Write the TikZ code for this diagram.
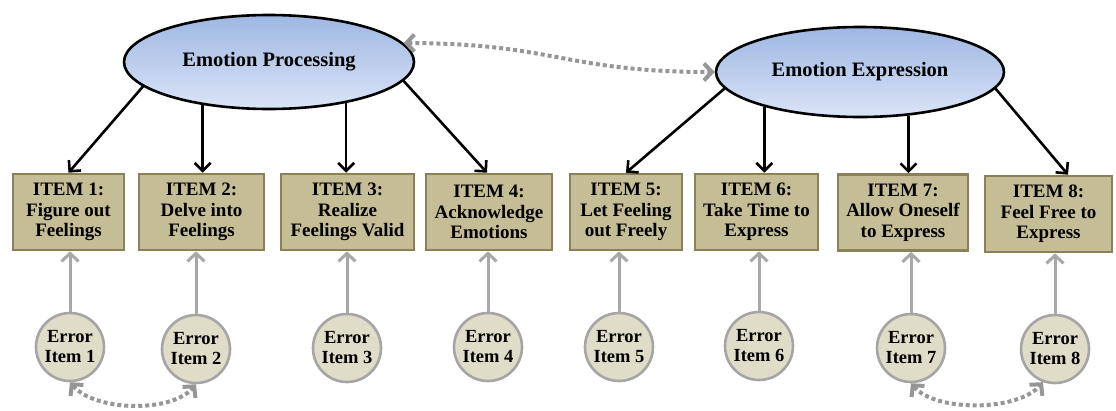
\documentclass[tikz,border=0pt]{standalone}
\usepackage{fontspec}
\setmainfont{Liberation Serif}
\usetikzlibrary{shapes.geometric,arrows.meta}
\definecolor{boxfill}{RGB}{197,189,150}
\definecolor{boxline}{RGB}{138,130,86}
\definecolor{errfill}{RGB}{223,220,200}
\definecolor{errline}{RGB}{165,165,165}
\definecolor{grayarr}{RGB}{168,168,168}
\definecolor{dotgray}{RGB}{150,150,150}
\definecolor{blueA}{RGB}{158,183,227}
\definecolor{blueB}{RGB}{218,228,246}
\begin{document}
\begin{tikzpicture}[x=1pt,y=-1pt,
 latent/.style={ellipse, draw=black, line width=2.6pt, inner sep=0pt,
   top color=blueA, bottom color=blueB, shading angle=0,
   font=\fontsize{20.5}{22}\selectfont\bfseries},
 item/.style={rectangle, draw=boxline, line width=2.6pt, fill=boxfill, inner sep=0pt,
   minimum height=76pt, align=center, font=\fontsize{19}{20.5}\selectfont\bfseries},
 err/.style={circle, draw=errline, line width=2.6pt, fill=errfill, minimum size=68pt,
   inner sep=0pt, align=center, font=\fontsize{18.5}{20}\selectfont\bfseries},
 load/.style={-{Straight Barb[length=8pt,width=16pt]}, line width=2.6pt, black},
 errarr/.style={-{Straight Barb[length=8pt,width=17pt]}, line width=3pt, grayarr},
 cov/.style={{Straight Barb[length=8pt,width=17pt]}-{Straight Barb[length=8pt,width=17pt]},
   line width=4pt, dotgray, dash pattern=on 4pt off 3pt},
]
\useasboundingbox (0,0) rectangle (1116,410);

% latent variables
\node[latent, minimum width=290pt, minimum height=94pt] (EP) at (269,62) {Emotion Processing};
\node[latent, minimum width=288pt, minimum height=90pt] (EE) at (860,72) {Emotion Expression};

% items
\node[item, minimum width=111pt] (I1) at (68.5,212) {ITEM 1:\\Figure out\\Feelings};
\node[item, minimum width=125pt] (I2) at (201.5,212) {ITEM 2:\\Delve into\\Feelings};
\node[item, minimum width=133pt] (I3) at (347.5,212) {ITEM 3:\\Realize\\Feelings Valid};
\node[item, minimum width=126pt] (I4) at (489,212) {ITEM 4:\\Acknowledge\\Emotions};
\node[item, minimum width=112pt] (I5) at (626,212) {ITEM 5:\\Let Feeling\\out Freely};
\node[item, minimum width=123pt] (I6) at (756.5,212) {ITEM 6:\\Take Time to\\Express};
\node[item, minimum width=130pt] (I7) at (903,212.5) {ITEM 7:\\Allow Oneself\\to Express};
\node[item, minimum width=127pt] (I8) at (1048.5,214) {ITEM 8:\\Feel Free to\\Express};

% errors
\node[err] (E1) at (70,347) {Error\\Item 1};
\node[err] (E2) at (196,349) {Error\\Item 2};
\node[err] (E3) at (347,348) {Error\\Item 3};
\node[err] (E4) at (488,347) {Error\\Item 4};
\node[err] (E5) at (619,347) {Error\\Item 5};
\node[err] (E6) at (759,346) {Error\\Item 6};
\node[err] (E7) at (911,348) {Error\\Item 7};
\node[err] (E8) at (1055,349) {Error\\Item 8};

% loadings
\draw[load] (EP.191) -- (I1.north);
\draw[load] (EP.213) -- (EP.213 |- I2.north);
\draw[load] (EP.332) -- (EP.332 |- I3.north);
\draw[load] (EP.352) -- ([xshift=-2pt]I4.north);
\draw[load] (EE.187) -- (I5.north);
\draw[load] (EE.200) -- (EE.200 |- I6.north);
\draw[load] (EE.318) -- (EE.318 |- I7.north);
\draw[load] (EE.353) -- ([xshift=19.5pt]I8.north);

% error arrows
\foreach \i in {1,...,8}{
  \draw[errarr] (E\i.north) -- (E\i.north |- I\i.south);
}

% covariances
\draw[cov] (EP.8) .. controls +(150,0) and +(-150,0) .. (EE.west);
\draw[cov] (E1.south) .. controls +(25,29) and +(-25,29) .. (E2.south);
\draw[cov] (E7.south) .. controls +(25,29) and +(-25,29) .. (E8.250);
\end{tikzpicture}
\end{document}
